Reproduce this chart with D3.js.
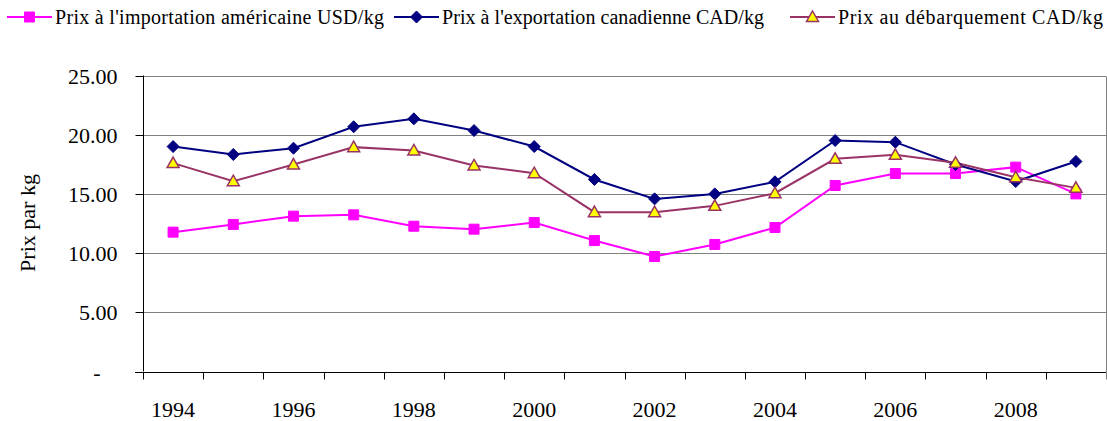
<!DOCTYPE html>
<html>
<head>
<meta charset="utf-8">
<script src="https://cdn.jsdelivr.net/npm/d3@7"></script>
<style>
  body { margin: 0; background: #fff; }
  svg text { font-family: "Liberation Serif", "DejaVu Serif", serif !important; }
</style>
</head>
<body>
<svg id="chart" width="1107" height="421"></svg>
<script>
const years = [1994, 1995, 1996, 1997, 1998, 1999, 2000, 2001, 2002, 2003, 2004, 2005, 2006, 2007, 2008, 2009];
const yearLabels = [1994, 1996, 1998, 2000, 2002, 2004, 2006, 2008];
const yTicks = [0, 5, 10, 15, 20, 25];

const importUSD = [11.77, 12.42, 13.12, 13.23, 12.27, 12.02, 12.58, 11.06, 9.71, 10.73, 12.16, 15.71, 16.72, 16.72, 17.26, 15.0];
const exportCAD = [19.0, 18.33, 18.86, 20.67, 21.34, 20.35, 19.0, 16.22, 14.58, 15.0, 16.02, 19.51, 19.37, 17.48, 16.05, 17.74];
const landedCAD = [17.6, 16.07, 17.48, 18.95, 18.67, 17.4, 16.75, 13.46, 13.46, 13.99, 15.06, 17.96, 18.3, 17.63, 16.41, 15.51];

const seriesNames = [
	"Prix à l'importation américaine USD/kg",
	"Prix à l'exportation canadienne CAD/kg",
	"Prix au débarquement CAD/kg"
];

const series = [
	{ name: seriesNames[0], values: importUSD, line: '#ff00ff', fill: '#ff00ff', stroke: '#ff00ff', marker: 'square' },
	{ name: seriesNames[1], values: exportCAD, line: '#000080', fill: '#000080', stroke: '#000080', marker: 'diamond' },
	{ name: seriesNames[2], values: landedCAD, line: '#993366', fill: '#ffff00', stroke: '#993366', marker: 'triangle' }
];

const markerPath = {
	square: 'M-5,-5H5V5H-5Z',
	diamond: 'M0,-6L6,0L0,6L-6,0Z',
	triangle: 'M0,-6L6,4.5H-6Z'
};

const plotL = 143, plotR = 1106, plotT = 75.5, plotB = 371.5;

const svg = d3.select('#chart');

const x = d3.scaleBand().domain(years).range([plotL, plotR]);
const y = d3.scaleLinear().domain([0, 25]).range([plotB, plotT]);

// gridlines
svg.append('g')
	.selectAll('line')
	.data(yTicks.filter(d => d > 0))
	.enter()
	.append('line')
	.attr('x1', plotL)
	.attr('x2', plotR)
	.attr('y1', d => Math.round(y(d)) + 0.5)
	.attr('y2', d => Math.round(y(d)) + 0.5)
	.attr('stroke', '#808080')
	.attr('stroke-width', 1);

// right border
svg.append('line')
	.attr('x1', plotR + 0.5).attr('x2', plotR + 0.5)
	.attr('y1', Math.round(y(25)) + 0.5).attr('y2', Math.round(y(0)) + 0.5)
	.attr('stroke', '#808080');

// y axis
const yAxis = svg.append('g')
	.attr('transform', `translate(${plotL + 0.5},0)`)
	.call(d3.axisLeft(y)
		.tickValues(yTicks)
		.tickSize(8)
		.tickPadding(18)
		.tickFormat(d => d === 0 ? '-' : d3.format('.2f')(d)));
yAxis.select('.domain').attr('stroke', '#000').attr('d', `M0,${y(25)}V${y(0)}`);
yAxis.selectAll('.tick line').attr('stroke', '#000');
yAxis.selectAll('.tick').attr('transform', d => `translate(0,${Math.round(y(d)) + 0.5})`);
yAxis.selectAll('text')
	.attr('font-size', 22)
	.attr('fill', '#000')
	.attr('dx', d => d === 0 ? -17 : 0);

// x axis with ticks between categories
const xg = svg.append('g').attr('transform', `translate(0,${Math.round(y(0)) + 0.5})`);
xg.append('line')
	.attr('x1', plotL - 8).attr('x2', plotR)
	.attr('stroke', '#000');
xg.selectAll('line.tk')
	.data(years.concat([null]))
	.enter()
	.append('line')
	.attr('class', 'tk')
	.attr('x1', (d, i) => Math.round(plotL + i * x.step()) + 0.5)
	.attr('x2', (d, i) => Math.round(plotL + i * x.step()) + 0.5)
	.attr('y1', 0)
	.attr('y2', 7)
	.attr('stroke', (d, i) => i === years.length ? '#808080' : '#000');
xg.selectAll('text')
	.data(yearLabels)
	.enter()
	.append('text')
	.attr('x', d => x(d) + x.bandwidth() / 2)
	.attr('y', 44)
	.attr('text-anchor', 'middle')
	.attr('font-size', 22)
	.text(d => d);

// y title
svg.append('text')
	.attr('transform', 'translate(35,223) rotate(-90)')
	.attr('text-anchor', 'middle')
	.attr('font-size', 22)
	.text('Prix par kg');

// series
const cx = (d, i) => x(years[i]) + x.bandwidth() / 2;
const line = d3.line().x(cx).y(d => y(d));

series.forEach(s => {
	svg.append('path')
		.datum(s.values)
		.attr('d', line)
		.attr('fill', 'none')
		.attr('stroke', s.line)
		.attr('stroke-width', 2);
});
series.forEach(s => {
	svg.append('g')
		.selectAll('path')
		.data(s.values)
		.enter()
		.append('path')
		.attr('d', markerPath[s.marker])
		.attr('transform', (d, i) => `translate(${cx(d, i)},${y(d)})`)
		.attr('fill', s.fill)
		.attr('stroke', s.stroke)
		.attr('stroke-width', s.marker === 'triangle' ? 1.5 : 1);
});

// legend
const legendX = [7, 394, 790];
const legendTextW = [329, 322, 265];
const legend = svg.append('g');
series.forEach((s, i) => {
	const g = legend.append('g').attr('transform', `translate(${legendX[i]},17)`);
	g.append('line').attr('x1', 0).attr('x2', 45).attr('stroke', s.line).attr('stroke-width', 2);
	g.append('path')
		.attr('d', markerPath[s.marker])
		.attr('transform', 'translate(22.5,0)')
		.attr('fill', s.fill)
		.attr('stroke', s.stroke)
		.attr('stroke-width', s.marker === 'triangle' ? 1.5 : 1);
	g.append('text')
		.attr('x', 48)
		.attr('y', 7)
		.attr('font-size', 20)
		.attr('textLength', legendTextW[i])
		.attr('lengthAdjust', 'spacing')
		.text(s.name);
});
</script>
</body>
</html>
